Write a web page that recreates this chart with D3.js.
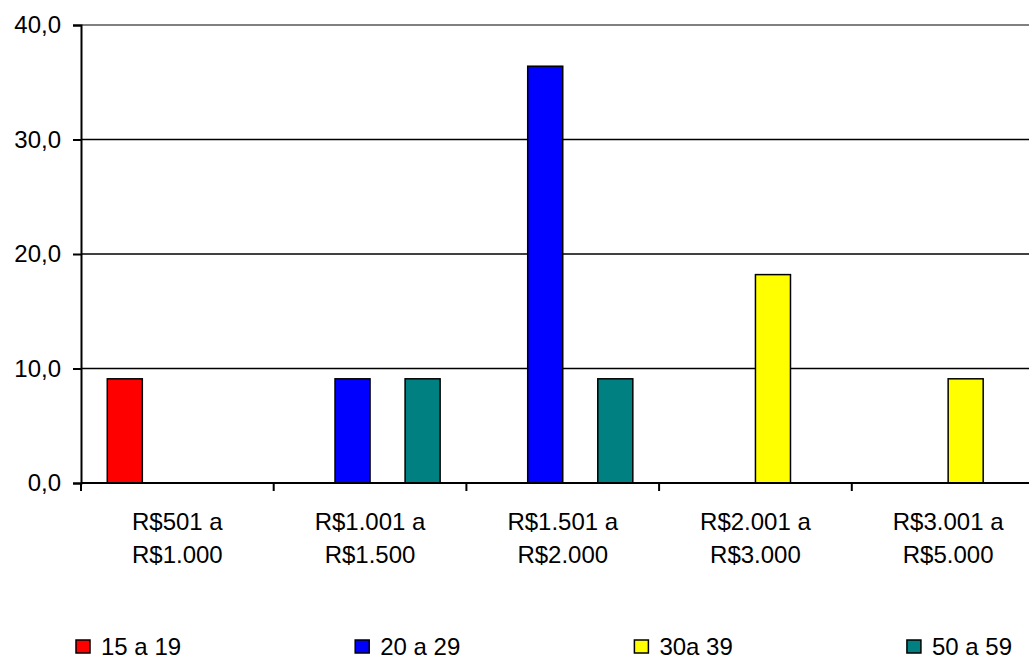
<!DOCTYPE html>
<html>
<head>
<meta charset="utf-8">
<title>faixa salarial por idade</title>
<script src="https://d3js.org/d3.v7.min.js"></script>
<style>
body { margin: 0; background: #fff; }
text { font-family: "Liberation Sans", Arial, sans-serif; font-size: 24px; fill: #000; }
</style>
</head>
<body>
<svg class="chart" width="1029" height="657"></svg>
<script>
// data
var categories = [["R$501 a", "R$1.000"], ["R$1.001 a", "R$1.500"], ["R$1.501 a", "R$2.000"], ["R$2.001 a", "R$3.000"], ["R$3.001 a", "R$5.000"]];
var seriesNames = ["15 a 19", "20 a 29", "30a 39", "50 a 59"];
var seriesColors = ["#ff0000", "#0000ff", "#ffff00", "#008080"];
var s15a19 = [9.1, 0, 0, 0, 0];
var s20a29 = [0, 9.1, 36.4, 0, 0];
var s30a39 = [0, 0, 0, 18.2, 9.1];
var s50a59 = [0, 9.1, 9.1, 0, 0];
var yTicks = [0, 10, 20, 30, 40];

var seriesValues = [s15a19, s20a29, s30a39, s50a59];

var svg = d3.select(".chart");

var plotLeft = 81, plotTop = 25, plotBottom = 483;
var catWidth = 192.7;

var x0 = d3.scaleBand()
	.domain(d3.range(categories.length))
	.range([plotLeft, plotLeft + catWidth * categories.length]);

var x1 = d3.scaleBand()
	.domain(d3.range(seriesNames.length))
	.range([0, x0.bandwidth()])
	.paddingOuter(0.75);

var y = d3.scaleLinear().domain([0, 40]).range([plotBottom, plotTop]);

//gridlines
svg.append("g")
	.selectAll("line")
	.data(yTicks.filter(function(d){ return d > 0 && d < 40; }))
	.enter().append("line")
	.attr("x1", plotLeft).attr("x2", 1029)
	.attr("y1", function(d){ return y(d); })
	.attr("y2", function(d){ return y(d); })
	.attr("stroke", "#000")
	.attr("stroke-width", 1.5);

// top border of plot area
svg.append("line")
	.attr("x1", plotLeft).attr("x2", 1029)
	.attr("y1", y(40)).attr("y2", y(40))
	.attr("stroke", "#808080")
	.attr("stroke-width", 2);

//bars
var bars = [];
seriesValues.forEach(function(vals, s){
	vals.forEach(function(v, c){
		if(v > 0) bars.push({s: s, c: c, v: v});
	});
});

svg.append("g")
	.selectAll("rect")
	.data(bars)
	.enter().append("rect")
	.attr("x", function(d){ return x0(d.c) + x1(d.s); })
	.attr("y", function(d){ return y(d.v); })
	.attr("width", x1.bandwidth())
	.attr("height", function(d){ return y(0) - y(d.v); })
	.attr("fill", function(d){ return seriesColors[d.s]; })
	.attr("stroke", "#000")
	.attr("stroke-width", 1.5);

//left axis
var yAxis = d3.axisLeft(y)
	.tickValues(yTicks)
	.tickSize(8)
	.tickPadding(12)
	.tickFormat(function(d){ return d3.format(".1f")(d).replace(".", ","); });

var gy = svg.append("g")
	.attr("transform", "translate(" + plotLeft + ",0)")
	.call(yAxis);
gy.select(".domain").attr("stroke", "#000").attr("stroke-width", 2);
gy.selectAll(".tick line").attr("stroke", "#000").attr("stroke-width", 2);
gy.selectAll(".tick text").attr("font-size", null).attr("font-family", null).attr("fill", "#000");
gy.attr("font-size", null).attr("font-family", null);

//bottom axis
var xTickPos = d3.range(categories.length + 1).map(function(i){ return plotLeft + i * catWidth; });
var gx = svg.append("g");
gx.append("line")
	.attr("x1", plotLeft).attr("x2", 1029)
	.attr("y1", plotBottom).attr("y2", plotBottom)
	.attr("stroke", "#000").attr("stroke-width", 2);
gx.selectAll(".xtick")
	.data(xTickPos)
	.enter().append("line")
	.attr("class", "xtick")
	.attr("x1", function(d){ return d; }).attr("x2", function(d){ return d; })
	.attr("y1", plotBottom).attr("y2", plotBottom + 8)
	.attr("stroke", "#000").attr("stroke-width", 2);

var labels = gx.selectAll(".xlabel")
	.data(categories)
	.enter().append("text")
	.attr("class", "xlabel")
	.attr("text-anchor", "middle")
	.attr("transform", function(d, i){ return "translate(" + (x0(i) + x0.bandwidth() / 2) + "," + (plotBottom + 47) + ")"; });
labels.selectAll("tspan")
	.data(function(d){ return d; })
	.enter().append("tspan")
	.attr("x", 0)
	.attr("y", function(d, i){ return i * 33; })
	.text(function(d){ return d; });

//legend
var legend = svg.append("g").attr("transform", "translate(0,646)");
var items = legend.selectAll("g")
	.data(seriesNames)
	.enter().append("g");
items.append("rect")
	.attr("x", 0).attr("y", -6)
	.attr("width", 14).attr("height", 13)
	.attr("fill", function(d, i){ return seriesColors[i]; })
	.attr("stroke", "#000")
	.attr("stroke-width", 1.5);
items.append("text")
	.attr("x", 25)
	.attr("y", 8.5)
	.text(function(d){ return d; });

// spread items with equal gaps between 76 and 1012
var widths = [];
items.each(function(){ widths.push(this.getBBox().width); });
var legStart = 76, legEnd = 1012;
var gap = (legEnd - legStart - d3.sum(widths)) / (widths.length - 1);
var pos = legStart;
items.attr("transform", function(d, i){
	var t = "translate(" + pos + ",0)";
	pos += widths[i] + gap;
	return t;
});
</script>
</body>
</html>
